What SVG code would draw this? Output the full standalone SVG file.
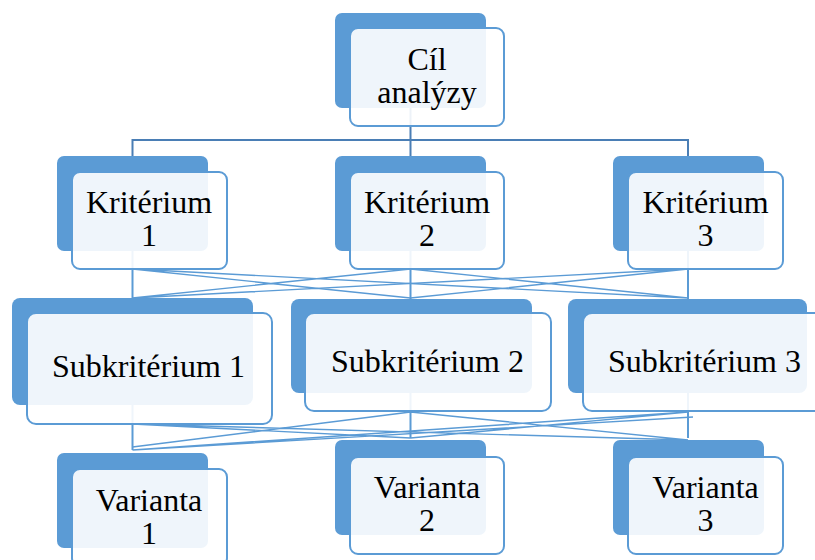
<svg xmlns="http://www.w3.org/2000/svg" width="815" height="560" viewBox="0 0 815 560">
  <style>
    .back { fill: #5B9BD5; }
    .front { fill: #FFFFFF; fill-opacity: 0.9; stroke: #5B9BD5; stroke-width: 2; }
    .lbl { font-family: "Liberation Serif", "Times New Roman", serif; font-size: 32px; fill: #000000; text-anchor: middle; }
    .tree { fill: none; stroke: #4A7EB5; stroke-width: 2; }
    .link { fill: none; stroke: #5B9BD5; stroke-width: 1.4; }
    .drop { fill: none; stroke: #5B9BD5; stroke-width: 2; }
  </style>
  <rect width="815" height="560" fill="#FFFFFF"/>

  <!-- connectors, drawn beneath the nodes -->
  <g id="connectors">
    <!-- goal to criteria -->
    <path class="tree" d="M410.5,108 V140 M132.5,140 H688 M132.5,139 V156 M410.5,140 V156 M688,139 V156"/>
    <!-- criteria to subcriteria -->
    <path class="drop" d="M132.5,251 V298 M410.5,251 V299 M688,251 V299"/>
    <path class="link" d="M132.5,269 L410.5,298 M132.5,269 L688,298 M410.5,269 L132.5,298 M410.5,269 L688,298 M688,269 L132.5,298 M688,269 L410.5,298"/>
    <!-- subcriteria to variants -->
    <path class="drop" d="M132.5,405 V450 M410.5,393 V438 M688,393 V438"/>
    <path class="link" d="M132.5,424 L410.5,438 M132.5,424 L688,440 M410.5,412 L132.5,447 M410.5,412 L688,440 M688,412 L132.5,450 M688,412 L410.5,438 M132.5,450 L693,417"/>
  </g>

  <g id="goal">
    <rect class="back" x="335" y="13" width="151" height="95" rx="7"/>
    <rect class="front" x="350" y="28" width="154" height="98" rx="8"/>
    <text class="lbl" x="427" y="70">Cíl</text>
    <text class="lbl" x="427" y="103">analýzy</text>
  </g>

  <g id="criterion-1">
    <rect class="back" x="57" y="156" width="151" height="95" rx="7"/>
    <rect class="front" x="72" y="172" width="155" height="97" rx="8"/>
    <text class="lbl" x="149" y="213">Kritérium</text>
    <text class="lbl" x="149" y="246">1</text>
  </g>
  <g id="criterion-2">
    <rect class="back" x="335" y="156" width="151" height="95" rx="7"/>
    <rect class="front" x="350" y="172" width="154" height="97" rx="8"/>
    <text class="lbl" x="427" y="213">Kritérium</text>
    <text class="lbl" x="427" y="246">2</text>
  </g>
  <g id="criterion-3">
    <rect class="back" x="613" y="156" width="151" height="95" rx="7"/>
    <rect class="front" x="628" y="172" width="155" height="97" rx="8"/>
    <text class="lbl" x="705.5" y="213">Kritérium</text>
    <text class="lbl" x="705.5" y="246">3</text>
  </g>

  <g id="subcriterion-1">
    <rect class="back" x="12" y="298" width="241" height="107" rx="8"/>
    <rect class="front" x="27" y="313" width="245" height="111" rx="9"/>
    <text class="lbl" x="148.5" y="377">Subkritérium 1</text>
  </g>
  <g id="subcriterion-2">
    <rect class="back" x="291" y="299" width="241" height="94" rx="8"/>
    <rect class="front" x="305" y="313" width="246" height="98" rx="9"/>
    <text class="lbl" x="427.5" y="372">Subkritérium 2</text>
  </g>
  <g id="subcriterion-3">
    <rect class="back" x="568" y="299" width="239" height="94" rx="8"/>
    <rect class="front" x="583" y="313" width="246" height="98" rx="9"/>
    <text class="lbl" x="704.5" y="372">Subkritérium 3</text>
  </g>

  <g id="variant-1">
    <rect class="back" x="57" y="453" width="151" height="95" rx="7"/>
    <rect class="front" x="72" y="469" width="155" height="97" rx="8"/>
    <text class="lbl" x="149" y="511">Varianta</text>
    <text class="lbl" x="149" y="544">1</text>
  </g>
  <g id="variant-2">
    <rect class="back" x="335" y="440" width="151" height="95" rx="7"/>
    <rect class="front" x="350" y="457" width="154" height="97" rx="8"/>
    <text class="lbl" x="427" y="498">Varianta</text>
    <text class="lbl" x="427" y="531">2</text>
  </g>
  <g id="variant-3">
    <rect class="back" x="613" y="440" width="151" height="95" rx="7"/>
    <rect class="front" x="628" y="457" width="155" height="97" rx="8"/>
    <text class="lbl" x="705.5" y="498">Varianta</text>
    <text class="lbl" x="705.5" y="531">3</text>
  </g>
</svg>
